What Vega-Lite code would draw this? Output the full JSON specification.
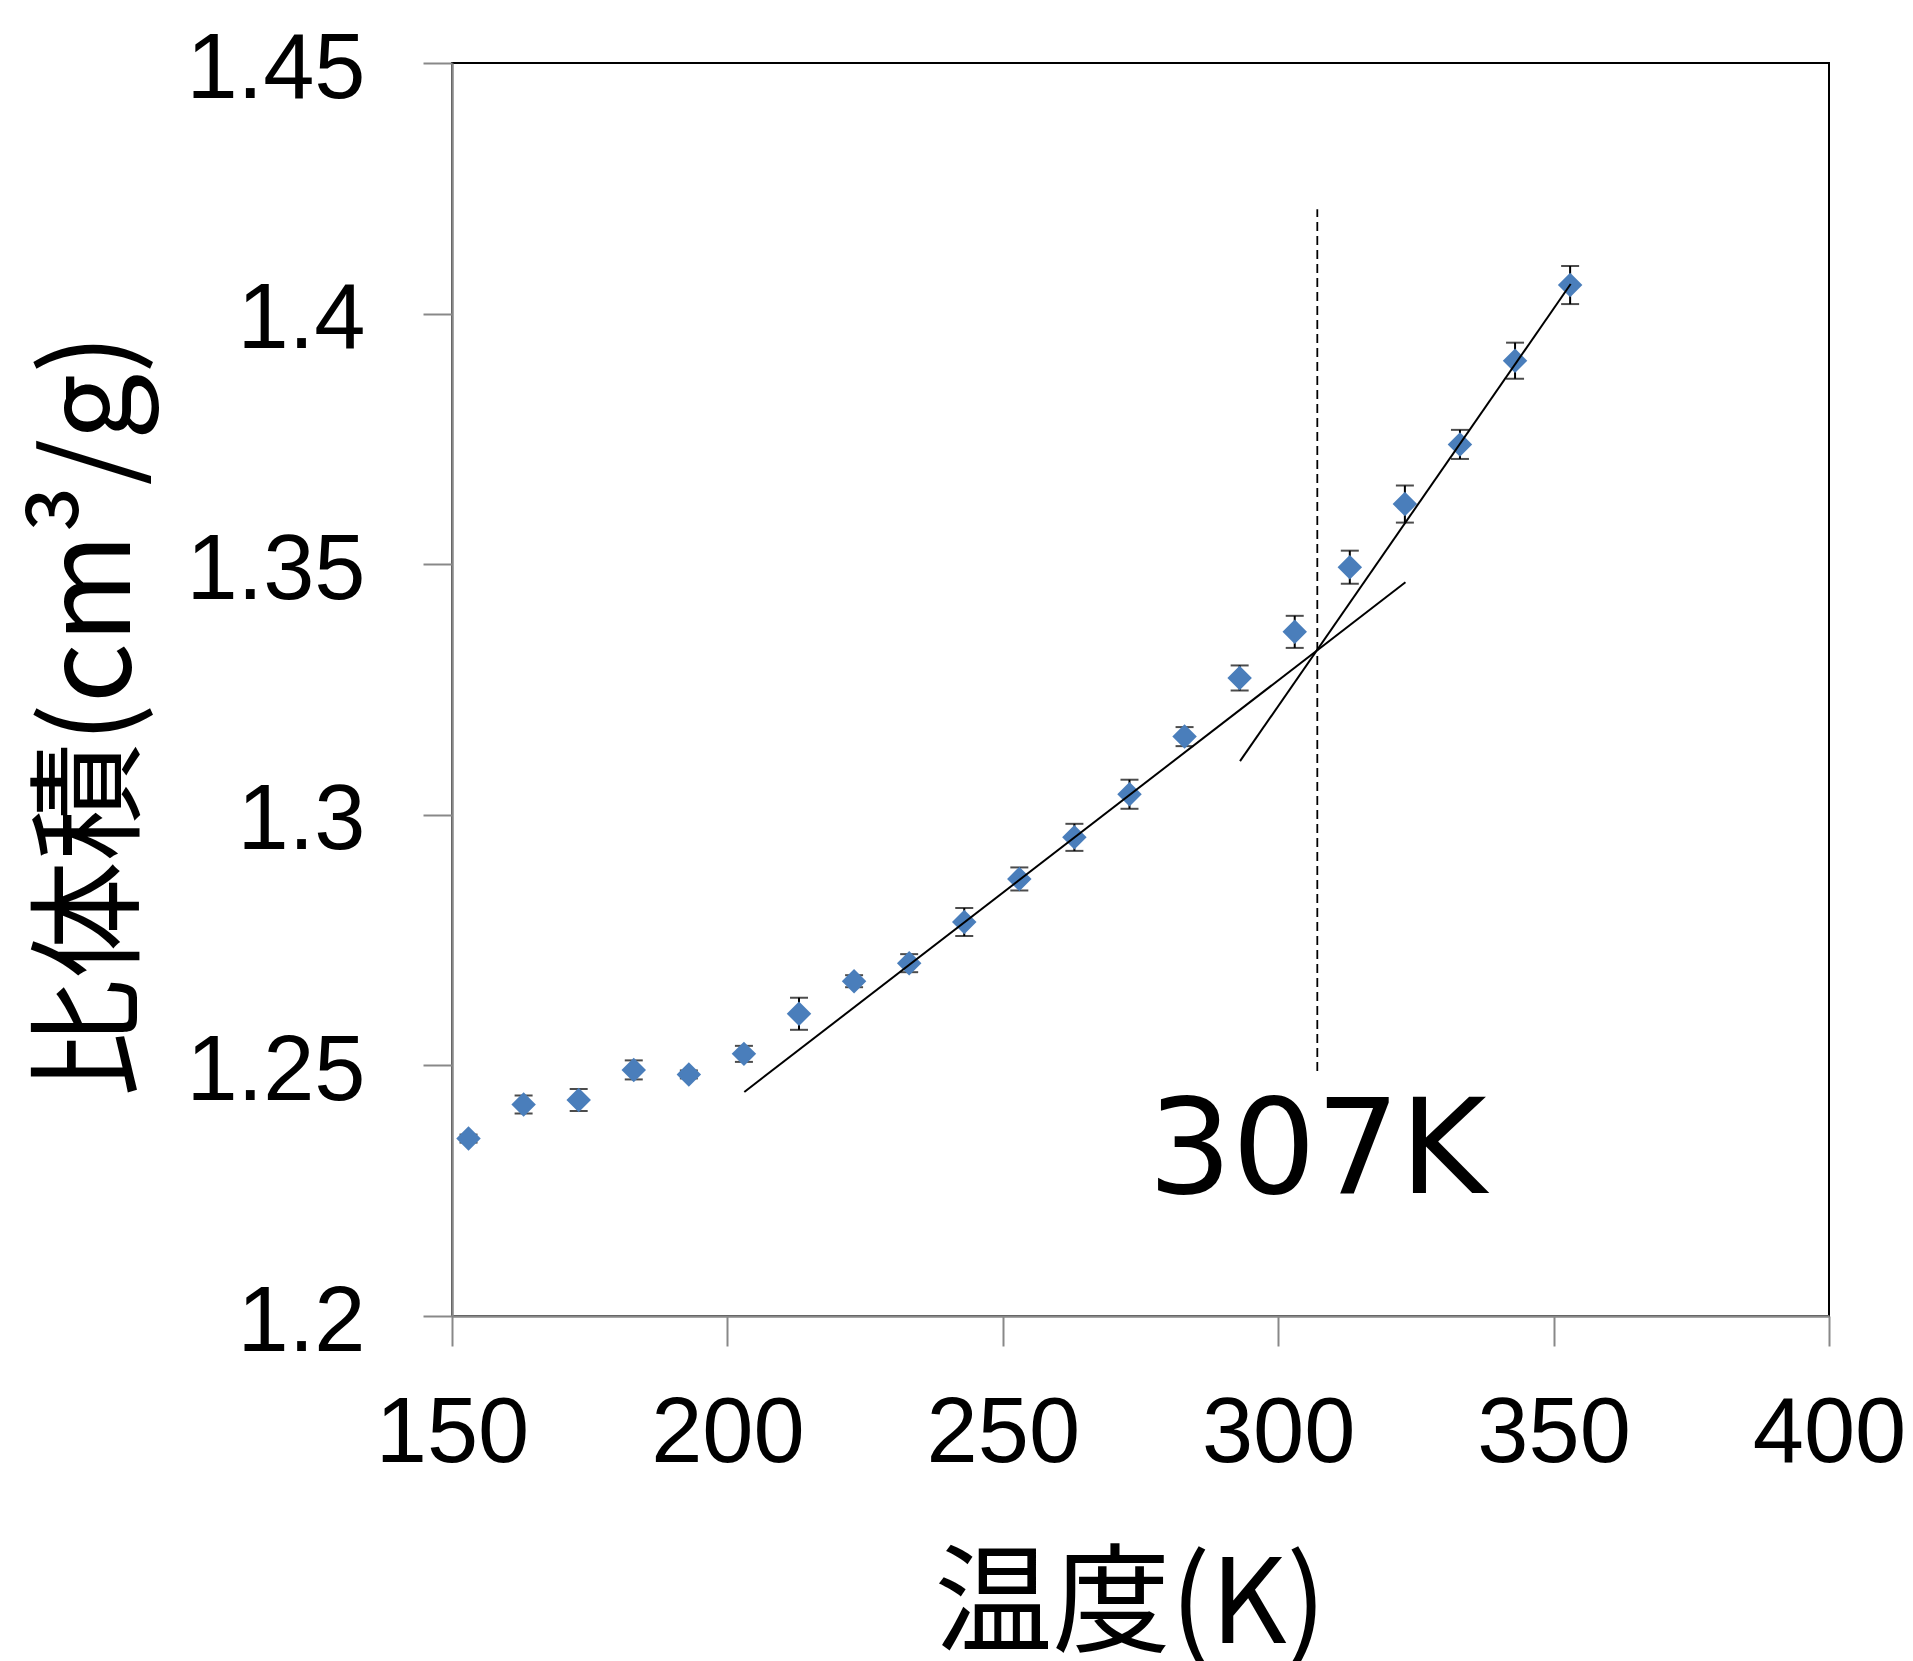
{
  "$schema": "https://vega.github.io/schema/vega-lite/v6.json",
  "width": 1377,
  "height": 1253,
  "autosize": {"type": "none"},
  "padding": {"left": 452, "top": 63, "right": 84, "bottom": 345},
  "background": "white",
  "config": {
    "view": {"stroke": "black", "strokeWidth": 2},
    "axis": {
      "grid": false,
      "domainColor": "#888888",
      "domainWidth": 2.5,
      "tickColor": "#888888",
      "tickWidth": 2,
      "tickSize": 29,
      "labelFont": "Liberation Sans",
      "labelFontSize": 92,
      "labelColor": "black",
      "labelLimit": 0,
      "labelFlush": false,
      "labelOverlap": false,
      "titleFont": "Noto Sans CJK JP",
      "titleFontSize": 118,
      "titleFontWeight": "normal",
      "titleColor": "black",
      "titleLimit": 0
    }
  },
  "datasets": {
    "pts": [
      {"T": 153, "v": 1.2354, "lo": 1.2346, "hi": 1.2362},
      {"T": 163, "v": 1.2422, "lo": 1.2404, "hi": 1.2440},
      {"T": 173, "v": 1.2431, "lo": 1.2409, "hi": 1.2453},
      {"T": 183, "v": 1.2491, "lo": 1.2472, "hi": 1.2510},
      {"T": 193, "v": 1.2482, "lo": 1.2474, "hi": 1.2490},
      {"T": 203, "v": 1.2523, "lo": 1.2507, "hi": 1.2539},
      {"T": 213, "v": 1.2603, "lo": 1.2571, "hi": 1.2635},
      {"T": 223, "v": 1.2668, "lo": 1.2656, "hi": 1.2680},
      {"T": 233, "v": 1.2704, "lo": 1.2686, "hi": 1.2722},
      {"T": 243, "v": 1.2786, "lo": 1.2758, "hi": 1.2814},
      {"T": 253, "v": 1.2872, "lo": 1.2849, "hi": 1.2895},
      {"T": 263, "v": 1.2955, "lo": 1.2928, "hi": 1.2982},
      {"T": 273, "v": 1.3041, "lo": 1.3012, "hi": 1.3070},
      {"T": 283, "v": 1.3156, "lo": 1.3137, "hi": 1.3175},
      {"T": 293, "v": 1.3273, "lo": 1.3248, "hi": 1.3298},
      {"T": 303, "v": 1.3365, "lo": 1.3333, "hi": 1.3397},
      {"T": 313, "v": 1.3494, "lo": 1.3461, "hi": 1.3527},
      {"T": 323, "v": 1.3620, "lo": 1.3583, "hi": 1.3657},
      {"T": 333, "v": 1.3739, "lo": 1.3710, "hi": 1.3768},
      {"T": 343, "v": 1.3906, "lo": 1.3870, "hi": 1.3942},
      {"T": 353, "v": 1.4057, "lo": 1.4019, "hi": 1.4095}
    ],
    "fits": [
      {"fit": "a", "T": 203.07, "v": 1.2447},
      {"fit": "a", "T": 323.1, "v": 1.3464},
      {"fit": "b", "T": 293.07, "v": 1.3107},
      {"fit": "b", "T": 353.1, "v": 1.4059}
    ],
    "mark307": [
      {"T": 307.1, "v1": 1.2489, "v2": 1.4208, "label": "307K", "ty": 1.2245}
    ]
  },
  "layer": [
    {
      "data": {"name": "pts"},
      "mark": {"type": "rule", "color": "black", "strokeWidth": 2},
      "encoding": {
        "x": {
          "field": "T", "type": "quantitative",
          "scale": {"domain": [150, 400], "nice": false, "zero": false},
          "axis": {
            "values": [150, 200, 250, 300, 350, 400],
            "tickSize": 30,
            "labelPadding": 42,
            "title": "温度(K)",
            "titleX": 678,
            "titleY": 326,
            "titleAlign": "center",
            "titleBaseline": "alphabetic",
            "titleAnchor": null
          }
        },
        "y": {
          "field": "lo", "type": "quantitative",
          "scale": {"domain": [1.2, 1.45], "nice": false, "zero": false},
          "axis": {
            "values": [1.2, 1.25, 1.3, 1.35, 1.4, 1.45],
            "labelExpr": "datum.value == 1.2 ? '1.2' : datum.value == 1.3 ? '1.3' : datum.value == 1.4 ? '1.4' : datum.label",
            "labelPadding": 58,
            "labelOffset": 6,
            "title": "比体積(cm³/g)",
            "titleX": -358,
            "titleY": 652,
            "titleAngle": -90,
            "titleAlign": "center",
            "titleBaseline": "middle",
            "titleAnchor": null
          }
        },
        "y2": {"field": "hi"}
      }
    },
    {
      "data": {"name": "pts"},
      "mark": {"type": "tick", "orient": "horizontal", "color": "black", "thickness": 2, "size": 18},
      "encoding": {
        "x": {"field": "T", "type": "quantitative"},
        "y": {"field": "lo", "type": "quantitative"}
      }
    },
    {
      "data": {"name": "pts"},
      "mark": {"type": "tick", "orient": "horizontal", "color": "black", "thickness": 2, "size": 18},
      "encoding": {
        "x": {"field": "T", "type": "quantitative"},
        "y": {"field": "hi", "type": "quantitative"}
      }
    },
    {
      "data": {"name": "pts"},
      "mark": {"type": "point", "shape": "diamond", "filled": true, "color": "#4A7EBB", "opacity": 1, "size": 600, "strokeWidth": 0},
      "encoding": {
        "x": {"field": "T", "type": "quantitative"},
        "y": {"field": "v", "type": "quantitative"}
      }
    },
    {
      "data": {"name": "fits"},
      "mark": {"type": "line", "color": "black", "strokeWidth": 2},
      "encoding": {
        "x": {"field": "T", "type": "quantitative"},
        "y": {"field": "v", "type": "quantitative"},
        "detail": {"field": "fit"}
      }
    },
    {
      "data": {"name": "mark307"},
      "mark": {"type": "rule", "color": "black", "strokeWidth": 1.8, "strokeDash": [9, 5]},
      "encoding": {
        "x": {"field": "T", "type": "quantitative"},
        "y": {"field": "v1", "type": "quantitative"},
        "y2": {"field": "v2"}
      }
    },
    {
      "data": {"name": "mark307"},
      "mark": {"type": "text", "font": "DejaVu Sans", "fontSize": 132, "align": "center", "baseline": "alphabetic", "color": "black"},
      "encoding": {
        "x": {"field": "T", "type": "quantitative"},
        "y": {"field": "ty", "type": "quantitative"},
        "text": {"field": "label"}
      }
    }
  ]
}
